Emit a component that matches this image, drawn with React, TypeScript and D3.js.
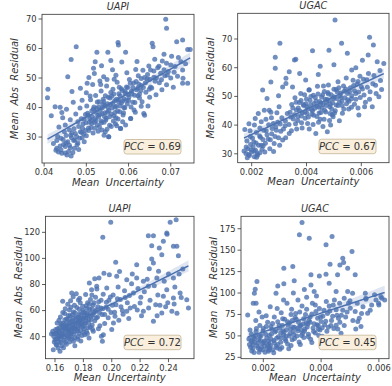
import React from 'react'
import * as d3 from 'd3'

// x values are stored in units of xUnit (see panels below)
const uapiTop: [number, number][] = [
  [43.0, 26.2], [44.2, 24.5], [45.4, 23.9], [45.0, 26.8], [43.4, 24.9], [46.2, 26.4], [47.0, 28.8], [43.0, 28.8],
  [44.6, 27.5], [45.8, 25.1], [46.8, 24.8], [44.0, 29.6], [45.2, 30.5], [46.5, 29.8], [47.8, 27.4], [48.4, 29.6],
  [47.4, 31.2], [42.8, 25.5], [44.8, 31.8], [46.0, 32.4], [48.9, 31.5], [49.5, 28.4],
  [40.9, 46.2], [40.8, 43.3], [41.7, 37.2], [47.6, 60.6], [46.4, 56.3], [45.6, 50.4], [42.6, 40.3], [43.8, 40.1],
  [44.2, 38.3], [46.6, 45.4], [48.6, 46.5], [50.2, 48.2], [45.3, 39.4], [46.9, 41.8], [47.5, 37.8], [48.0, 35.2],
  [46.2, 35.9], [45.0, 34.1], [43.5, 33.4], [44.4, 36.5],
  [49.2, 34.4], [49.8, 37.6], [50.1, 40.5], [50.5, 33.1], [50.8, 36.2], [51.0, 42.6], [51.3, 38.9], [51.6, 31.4],
  [51.9, 35.0], [52.2, 44.1], [52.4, 39.7], [52.6, 41.9], [52.9, 36.8], [53.1, 33.5], [53.3, 39.2], [53.5, 45.6],
  [53.8, 37.9], [54.0, 42.8], [54.2, 30.6], [54.4, 40.6], [54.6, 35.8], [54.8, 47.3], [55.0, 38.4], [55.2, 43.5],
  [55.3, 30.1], [55.5, 36.9], [55.7, 41.0], [55.9, 33.6], [56.1, 39.8], [56.3, 46.2], [56.5, 37.2], [56.7, 42.2],
  [56.9, 34.5], [57.1, 40.4], [57.3, 48.6], [57.5, 36.1], [57.7, 44.7], [57.9, 38.6], [58.1, 32.9], [58.3, 41.5],
  [58.5, 45.8], [58.7, 37.5], [58.9, 43.0], [59.1, 39.9], [59.3, 34.1], [59.5, 47.0], [59.7, 41.2], [59.9, 44.4],
  [60.5, 36.3], [48.5, 39.8], [49.0, 42.5], [50.0, 45.0], [51.5, 47.8], [52.0, 33.0], [53.0, 42.0], [54.5, 44.0],
  [55.5, 34.0], [56.0, 43.8], [57.0, 36.5], [58.0, 40.5], [52.7, 37.4], [53.9, 41.1], [55.1, 40.0], [56.8, 38.3],
  [54.3, 37.0], [51.8, 40.2], [50.3, 38.1], [49.5, 36.0], [52.3, 35.6], [57.6, 42.6], [50.9, 43.9], [53.6, 34.8],
  [55.8, 45.1], [58.6, 35.2], [49.8, 32.2], [51.2, 35.6], [53.4, 47.8], [56.6, 49.6], [54.9, 32.6], [57.8, 46.9],
  [52.5, 58.7], [51.7, 53.3], [52.1, 55.5], [51.9, 51.5], [54.1, 50.4], [57.5, 62.0], [57.6, 61.2], [55.1, 58.7],
  [59.3, 58.7], [53.6, 54.2], [56.2, 52.8], [58.4, 55.4], [54.9, 49.5], [57.0, 50.9], [59.6, 51.8], [50.6, 50.2],
  [55.8, 55.9], [53.2, 49.0],
  [60.8, 44.6], [61.2, 48.3], [61.5, 41.7], [61.9, 46.0], [62.3, 50.8], [62.6, 43.2], [63.0, 47.5], [63.4, 52.6],
  [63.6, 38.0], [63.8, 37.4], [61.3, 39.2], [58.1, 32.9], [55.3, 30.1], [54.5, 31.8], [60.5, 36.3], [64.1, 45.2],
  [64.4, 49.7], [64.8, 54.1], [65.2, 47.0], [65.6, 61.8], [65.8, 60.6], [65.2, 52.7], [66.0, 50.3], [66.5, 44.3],
  [66.9, 53.5], [67.3, 48.4], [67.6, 51.6], [68.0, 55.8], [68.4, 58.1], [68.8, 69.9], [69.0, 66.9], [69.0, 55.0],
  [69.0, 47.7], [69.4, 52.2], [70.0, 50.0], [70.6, 46.9], [71.0, 53.9], [71.4, 62.3], [71.8, 57.0], [72.4, 55.5],
  [72.8, 62.9], [72.8, 52.7], [72.9, 49.9], [72.8, 48.2], [74.0, 48.2], [74.0, 59.7], [74.6, 59.7], [73.5, 54.8],
  [62.0, 55.6], [63.2, 42.0], [64.6, 40.5], [66.2, 56.4], [67.9, 46.0], [60.2, 49.5], [61.7, 52.9], [62.9, 45.8],
  [65.0, 43.5], [70.2, 57.4], [68.6, 50.8], [60.0, 42.4], [61.0, 46.8], [62.4, 48.0], [63.8, 50.2], [64.9, 46.2],
  [66.3, 48.9], [59.2, 45.5], [60.6, 40.2], [62.2, 44.0],
  [45.6, 28.4], [46.3, 30.6], [47.1, 32.8], [47.7, 30.2], [48.2, 33.6], [48.8, 36.2], [49.4, 31.0], [49.9, 34.8],
  [50.4, 37.4], [50.7, 35.0], [51.1, 33.2], [51.4, 37.0], [51.7, 39.5], [52.0, 36.2], [52.3, 38.4], [52.6, 34.2],
  [52.9, 40.3], [53.2, 37.6], [53.5, 35.4], [53.8, 39.9], [54.1, 42.0], [54.4, 38.2], [54.7, 36.4], [55.0, 41.3],
  [55.3, 39.0], [55.6, 43.2], [55.9, 37.8], [56.2, 41.4], [56.5, 44.6], [56.8, 40.2], [57.1, 42.8], [57.4, 38.8],
  [57.7, 41.9], [58.0, 44.0], [58.3, 46.4], [58.6, 42.2], [58.9, 40.0], [59.2, 44.8], [59.5, 42.5], [59.8, 46.8],
  [60.1, 43.6], [60.4, 48.2], [60.7, 45.5], [61.0, 41.8], [61.4, 44.2], [61.8, 48.8], [62.2, 46.6], [62.6, 44.6],
  [63.0, 49.8], [63.5, 46.8], [64.0, 48.4], [64.5, 51.2], [65.0, 49.6], [65.5, 46.6], [66.0, 52.4], [66.6, 50.0],
  [67.2, 54.0], [67.8, 49.4], [68.4, 52.8], [69.2, 51.0], [70.0, 54.4], [70.8, 52.0], [71.6, 50.6], [43.8, 27.0],
  [44.5, 29.2], [45.2, 28.0], [46.0, 27.2], [46.6, 31.4], [47.3, 29.0], [48.0, 28.0], [48.6, 31.8], [49.1, 33.0],
  [50.0, 30.4], [50.6, 32.2], [51.3, 34.6], [53.7, 32.4], [56.4, 35.4], [58.8, 38.2], [61.6, 38.4], [63.0, 40.4],
  [54.2, 35.0], [52.8, 32.0], [57.2, 33.8], [42.2, 27.8], [43.2, 30.2], [44.0, 25.6], [45.0, 24.6], [46.4, 23.6],
  [47.2, 26.2], [48.2, 25.8], [49.0, 29.8]
]

const ugacTop: [number, number][] = [
  [17.9, 30.1], [18.6, 31.8], [19.2, 29.4], [20.0, 30.6], [20.5, 32.5], [21.0, 29.0], [21.4, 31.2], [22.0, 30.0],
  [18.3, 34.5], [19.5, 36.0], [20.8, 34.1], [21.7, 37.4], [22.5, 33.0], [23.2, 35.8], [23.8, 31.6], [24.4, 38.2],
  [25.0, 33.7], [25.6, 36.6], [26.2, 40.1], [26.8, 34.9], [27.5, 38.8], [28.2, 33.6], [28.8, 39.4], [17.5, 38.5],
  [19.0, 40.5], [21.3, 42.3], [22.4, 44.0], [23.5, 41.2], [24.6, 45.2], [25.6, 49.3], [24.0, 52.2], [26.4, 45.2],
  [27.2, 42.6], [29.5, 41.0], [30.0, 46.4], [31.3, 34.8], [33.7, 37.1], [30.6, 37.9], [32.2, 39.8], [29.2, 44.3],
  [50.4, 76.6], [30.3, 68.5], [42.2, 65.9], [28.6, 63.6], [28.6, 59.8], [36.1, 62.9], [35.6, 62.7], [48.2, 66.1],
  [52.8, 68.5], [63.0, 70.6], [64.4, 67.9], [65.8, 62.1], [68.2, 61.5], [62.5, 64.4], [54.9, 65.0], [60.4, 62.6],
  [31.3, 53.3], [34.9, 53.3], [32.5, 54.5], [33.7, 58.6], [32.5, 56.3], [39.7, 55.7], [40.9, 52.2], [27.0, 55.0],
  [29.8, 50.2], [37.5, 58.0], [45.0, 60.5], [50.0, 61.0], [56.5, 59.2], [58.0, 60.0], [44.3, 57.6],
  [66.4, 49.9], [65.2, 53.9], [64.0, 46.4], [59.1, 43.5], [53.1, 44.1], [49.7, 42.9], [48.8, 40.0], [47.6, 37.7],
  [43.4, 37.1], [61.5, 48.0], [63.2, 51.6], [67.0, 55.5], [62.0, 55.8], [57.5, 47.3], [55.4, 45.6], [46.0, 39.5],
  [41.0, 38.6], [38.2, 40.8], [52.0, 41.5],
  [34.0, 44.5], [34.6, 47.2], [35.2, 42.1], [35.8, 49.5], [36.3, 45.3], [36.9, 43.0], [37.4, 47.9], [37.9, 51.0],
  [38.5, 44.2], [39.0, 46.8], [39.5, 42.4], [40.0, 49.1], [40.5, 45.6], [41.0, 52.3], [41.5, 47.0], [42.0, 43.8],
  [42.5, 50.4], [43.0, 45.9], [43.5, 48.4], [44.0, 53.5], [44.5, 46.2], [45.0, 42.0], [45.5, 49.8], [46.0, 47.2],
  [46.5, 51.7], [47.0, 44.6], [47.5, 48.9], [48.0, 54.0], [48.5, 46.4], [49.0, 50.6], [49.5, 47.8], [50.0, 52.5],
  [50.5, 45.0], [51.0, 49.3], [51.5, 55.1], [52.0, 48.0], [52.5, 51.2], [53.0, 46.8], [53.5, 53.6], [54.0, 49.5],
  [54.5, 56.4], [55.0, 51.0], [55.5, 48.3], [56.0, 53.0], [56.5, 50.2], [57.0, 55.6], [57.5, 52.0], [58.0, 49.0],
  [58.5, 54.3], [59.0, 51.5], [59.5, 57.0], [60.0, 53.4], [36.0, 40.5], [38.0, 48.6], [40.2, 44.0], [42.8, 47.5],
  [44.2, 50.8], [46.8, 49.0], [48.6, 44.0], [50.8, 47.0], [52.6, 49.6], [54.6, 47.4], [56.4, 46.2], [41.6, 50.0],
  [43.8, 43.0], [45.6, 46.0], [47.8, 51.4], [49.2, 45.6], [51.8, 53.0], [53.8, 51.8], [39.3, 50.6], [37.0, 46.0],
  [61.0, 50.5], [62.6, 58.0], [60.8, 56.0], [64.6, 57.3], [66.8, 59.0], [58.8, 46.0], [39.8, 47.4], [42.2, 45.0],
  [44.8, 48.2], [47.2, 46.8], [49.8, 49.2], [45.2, 44.4], [48.2, 48.5], [50.2, 44.2], [51.2, 51.6], [46.2, 53.6],
  [18.0, 32.4], [18.9, 29.8], [19.6, 33.2], [20.3, 35.4], [20.9, 31.0], [21.6, 33.8], [22.2, 29.6], [22.9, 36.2],
  [23.5, 33.0], [24.1, 35.0], [24.8, 30.6], [25.3, 38.0], [26.0, 35.2], [26.6, 31.8], [27.3, 37.0], [27.9, 40.6],
  [28.5, 36.0], [29.0, 38.2], [29.8, 35.6], [30.4, 40.4], [31.0, 42.6], [31.6, 38.6], [32.3, 41.4], [33.0, 44.0],
  [33.6, 40.2], [34.3, 42.8], [35.0, 46.0], [35.6, 43.6], [36.2, 48.0], [36.8, 41.6], [37.5, 45.0], [38.1, 43.2],
  [38.8, 47.2], [39.4, 44.6], [40.1, 46.4], [40.7, 42.8], [41.3, 48.6], [41.9, 45.4], [42.6, 43.4], [43.2, 49.6],
  [43.9, 46.6], [44.6, 44.2], [45.2, 47.6], [45.9, 50.6], [46.6, 45.2], [47.3, 48.0], [48.0, 50.8], [48.7, 47.2],
  [49.4, 43.6], [50.1, 49.8], [50.8, 52.4], [51.5, 46.8], [52.2, 50.2], [52.9, 48.4], [53.6, 45.6], [54.3, 52.6],
  [55.0, 48.8], [55.7, 51.6], [56.4, 49.2], [57.2, 53.8], [58.0, 51.0], [58.8, 55.2], [59.6, 49.6], [60.4, 52.6],
  [61.2, 46.4], [62.2, 53.2], [63.0, 49.0], [64.2, 54.4], [65.4, 51.0], [67.4, 52.4], [19.4, 38.0], [21.0, 40.0],
  [23.0, 39.0], [25.2, 42.0], [27.0, 44.5], [28.0, 30.8], [30.2, 33.0], [32.4, 35.6], [34.5, 38.0], [36.4, 38.6],
  [38.4, 39.0], [40.4, 40.6], [42.4, 40.2], [44.4, 41.0], [46.4, 42.0], [48.4, 41.6], [17.2, 31.0], [18.4, 28.6],
  [19.8, 31.4], [21.8, 28.8], [23.0, 30.4], [24.2, 32.8]
]

const uapiBottom: [number, number][] = [
  [158.8, 30.0], [163.5, 28.8], [158.4, 44.1], [160.0, 37.7], [157.5, 42.0], [159.2, 40.2], [160.5, 45.5], [161.2, 33.4],
  [162.0, 38.6], [162.6, 42.8], [163.2, 47.0], [164.0, 35.5], [164.6, 40.4], [165.2, 44.6], [165.8, 50.2], [166.4, 37.2],
  [167.0, 42.1], [167.6, 47.8], [168.2, 53.5], [168.8, 39.4], [169.4, 45.0], [170.0, 50.6], [170.6, 56.0], [171.2, 41.8],
  [171.8, 47.2], [172.4, 52.4], [173.0, 59.0], [173.6, 44.0], [174.2, 49.6], [174.8, 55.2], [175.4, 62.4], [176.0, 46.3],
  [176.6, 51.8], [177.2, 57.5], [177.8, 66.0], [178.4, 48.5], [179.0, 54.0], [179.6, 60.2], [180.2, 43.2], [180.8, 56.6],
  [181.4, 50.5], [182.0, 63.8], [182.6, 58.0], [183.2, 46.8], [183.8, 53.2], [184.4, 61.0], [185.0, 68.5], [185.6, 55.6],
  [186.2, 49.0], [186.8, 64.2], [187.4, 58.4], [188.0, 52.2], [188.6, 70.2], [189.2, 60.6], [190.0, 55.0], [190.8, 66.8],
  [191.6, 48.3], [192.4, 62.0], [193.2, 57.0], [194.0, 72.5], [166.0, 31.5], [168.0, 34.2], [170.2, 36.0], [172.0, 38.2],
  [174.0, 33.0], [176.2, 40.0], [178.2, 36.6], [181.0, 41.5], [184.0, 39.0], [187.0, 44.2], [161.5, 50.5], [163.8, 55.0],
  [165.5, 58.6], [167.2, 61.5], [169.0, 64.8], [171.0, 67.5], [172.8, 70.6], [175.0, 73.0], [176.5, 68.2], [178.0, 44.8],
  [179.5, 47.5], [182.2, 44.0], [184.8, 47.5], [169.8, 42.6], [171.5, 46.0], [173.3, 42.0], [175.8, 44.5], [177.5, 49.8],
  [174.5, 52.0], [172.2, 56.8], [169.6, 53.6], [167.8, 50.0], [166.5, 46.2], [164.8, 48.8], [162.8, 36.0], [171.2, 62.5],
  [180.0, 58.8], [183.0, 66.0], [186.0, 72.0], [189.5, 76.5], [170.8, 40.0], [173.8, 46.4], [176.8, 42.6], [179.2, 51.2],
  [181.8, 54.4], [168.5, 45.4], [165.0, 41.0], [163.0, 40.0], [161.0, 42.6], [177.0, 54.6], [174.0, 39.2], [180.5, 46.0],
  [184.2, 81.1], [189.4, 78.6], [196.5, 77.3], [203.5, 86.3], [198.3, 87.5], [171.8, 73.5], [165.4, 67.1], [199.3, 127.7],
  [193.7, 116.2], [245.4, 129.7], [241.2, 127.7], [238.8, 119.5], [239.0, 118.5], [225.8, 117.4], [229.4, 117.4], [228.2, 109.7],
  [236.4, 113.1], [243.5, 109.3], [245.9, 109.3], [247.0, 102.1], [228.2, 99.5], [229.4, 96.5], [235.3, 102.8], [202.8, 97.0],
  [252.9, 68.4], [254.1, 62.0], [242.4, 59.5], [235.3, 58.2], [229.4, 51.8], [250.1, 91.9], [243.5, 85.0], [248.2, 73.5],
  [238.8, 76.0], [236.4, 71.0], [243.5, 69.7], [222.3, 82.5], [225.8, 78.6], [231.8, 85.0], [233.0, 90.1], [217.6, 95.2],
  [217.6, 85.0], [210.6, 83.7], [215.3, 73.5], [220.0, 65.8], [222.3, 59.5], [210.6, 59.5], [202.3, 55.6], [201.2, 50.5],
  [194.1, 41.5], [193.4, 36.5], [192.7, 40.3],
  [196.0, 62.5], [198.0, 68.0], [199.5, 58.5], [201.0, 72.0], [203.0, 64.5], [204.5, 78.0], [206.0, 68.5], [207.5, 60.0],
  [209.0, 75.2], [211.0, 66.0], [212.5, 71.5], [214.0, 80.5], [216.0, 63.2], [218.5, 77.0], [220.5, 70.2], [223.0, 74.5],
  [225.0, 84.0], [227.0, 68.0], [230.0, 79.0], [232.5, 72.0], [234.0, 64.0], [237.0, 82.5], [240.0, 88.0], [195.0, 50.0],
  [197.5, 54.5], [200.0, 45.5], [205.0, 52.5], [208.0, 57.2], [212.0, 54.0], [191.0, 85.0], [194.5, 88.6], [188.0, 84.5],
  [205.5, 90.0], [214.5, 88.0], [226.5, 92.0], [231.0, 64.5], [239.5, 66.0], [244.5, 78.0], [247.5, 88.0], [233.5, 108.0],
  [159.5, 36.0], [160.2, 42.0], [161.0, 38.2], [161.8, 46.0], [162.4, 40.8], [163.0, 44.2], [163.7, 38.0], [164.3, 50.0],
  [165.0, 42.6], [165.6, 47.4], [166.2, 39.6], [166.9, 53.0], [167.5, 45.0], [168.1, 41.2], [168.7, 48.6], [169.3, 56.2],
  [169.9, 46.0], [170.5, 43.0], [171.1, 51.4], [171.7, 44.4], [172.3, 49.0], [172.9, 54.2], [173.5, 47.0], [174.1, 58.4],
  [174.7, 45.8], [175.3, 50.4], [175.9, 54.6], [176.5, 48.2], [177.1, 61.0], [177.7, 52.6], [178.3, 56.8], [178.9, 50.0],
  [179.5, 63.4], [180.1, 54.2], [180.7, 48.8], [181.3, 58.2], [181.9, 52.0], [182.5, 61.6], [183.1, 56.0], [183.7, 50.4],
  [184.3, 64.8], [184.9, 58.0], [185.5, 53.2], [186.1, 61.2], [186.7, 56.6], [187.5, 66.0], [188.3, 59.2], [189.1, 54.4],
  [190.2, 63.0], [191.3, 58.6], [192.5, 68.0], [193.6, 61.4], [195.0, 57.0], [196.2, 66.4], [197.5, 61.0], [199.0, 70.4],
  [200.5, 64.0], [202.0, 58.8], [204.0, 69.0], [206.5, 63.0], [209.5, 70.0], [213.0, 62.0], [160.8, 34.2], [162.2, 31.4],
  [164.8, 33.0], [167.2, 35.8], [169.6, 38.6], [173.0, 36.4], [176.0, 38.0], [179.0, 40.8], [182.8, 42.4], [186.4, 45.6],
  [190.6, 46.0], [162.8, 52.6], [166.8, 57.8], [170.2, 60.4], [173.7, 64.0], [177.4, 69.4], [181.6, 72.4], [185.8, 76.0],
  [226.0, 62.0], [232.0, 56.0], [238.0, 63.0], [244.0, 65.0], [249.0, 70.0], [221.0, 56.0], [246.0, 58.0], [218.0, 60.5]
]

const ugacBottom: [number, number][] = [
  [33.4, 182.3], [32.5, 167.9], [35.9, 164.0], [43.8, 166.0], [41.7, 156.2], [50.7, 148.5], [47.5, 140.7], [47.8, 135.6],
  [46.5, 132.8], [49.2, 129.0], [51.8, 121.2], [43.1, 133.7], [36.5, 121.2], [39.4, 120.0], [41.7, 122.0], [45.7, 121.2],
  [27.1, 129.0], [30.2, 131.0], [25.0, 108.3], [27.1, 110.7], [30.7, 114.2], [17.8, 113.5], [17.2, 104.5], [16.9, 99.8],
  [17.5, 88.2], [16.5, 88.2], [14.6, 74.5], [15.4, 57.0], [24.4, 99.8], [36.5, 109.5], [37.6, 101.8], [42.8, 111.5],
  [45.2, 101.8], [49.2, 101.8], [50.9, 99.8], [55.3, 99.8], [55.5, 92.8], [59.0, 92.0], [59.9, 88.2], [60.7, 96.0],
  [56.1, 76.5], [53.2, 70.7], [53.8, 61.0], [52.7, 66.8], [51.8, 78.5], [50.1, 82.3], [46.9, 53.2],
  [16.3, 39.5], [19.8, 33.7], [23.3, 33.7], [17.0, 42.5], [18.2, 36.0], [19.0, 45.0], [20.5, 38.2], [21.2, 47.5],
  [22.0, 41.0], [22.8, 52.0], [23.6, 44.5], [24.4, 38.0], [25.2, 49.0], [26.0, 42.5], [26.8, 56.0], [27.6, 46.2],
  [28.4, 40.5], [29.2, 52.8], [30.0, 45.5], [30.8, 60.0], [31.6, 49.8], [32.4, 43.0], [33.2, 56.5], [34.0, 48.2],
  [34.8, 65.0], [35.6, 52.0], [36.4, 46.0], [37.2, 59.2], [38.0, 53.5], [38.8, 70.5], [39.6, 57.0], [40.4, 49.5],
  [41.2, 63.0], [42.0, 55.5], [42.8, 48.0], [43.6, 68.0], [44.4, 58.5], [45.2, 62.5], [17.5, 55.0], [18.8, 62.0],
  [20.0, 58.5], [21.5, 66.0], [22.6, 61.0], [23.8, 72.0], [25.0, 66.5], [26.2, 77.0], [27.4, 69.5], [28.6, 62.5],
  [29.8, 81.0], [31.0, 71.5], [32.2, 66.0], [33.4, 85.0], [34.6, 75.0], [35.8, 68.0], [37.0, 88.0], [38.2, 78.5],
  [39.4, 82.0], [40.6, 73.0], [41.8, 90.0], [43.0, 79.0], [44.2, 86.0], [45.5, 74.0], [46.5, 66.0], [47.5, 80.0],
  [48.5, 72.0], [49.5, 88.0], [24.0, 54.5], [25.6, 58.8], [27.0, 51.0], [28.0, 57.2], [29.0, 64.8], [30.4, 55.0],
  [31.8, 58.6], [33.0, 62.2], [34.2, 55.5], [35.2, 60.4], [36.2, 72.0], [37.6, 64.2], [39.0, 62.0], [40.0, 66.8],
  [20.8, 52.0], [19.2, 50.2], [16.6, 48.0], [15.8, 44.2], [22.2, 36.2], [26.4, 36.5], [29.6, 38.8], [32.8, 40.0],
  [36.8, 42.2], [41.6, 44.6], [44.8, 46.0], [24.8, 82.0], [28.2, 88.0], [32.0, 92.0], [35.0, 95.0], [38.4, 96.5],
  [21.0, 73.5], [18.5, 78.0], [31.2, 76.0], [26.6, 62.0], [30.0, 68.0], [34.0, 70.0], [39.0, 58.0], [42.5, 60.0],
  [46.0, 70.5], [48.0, 62.0], [52.0, 58.0], [54.5, 84.0], [57.5, 86.0], [61.0, 94.0], [21.8, 44.0], [24.6, 47.2],
  [27.8, 49.6], [30.6, 51.4], [33.6, 53.0], [23.0, 57.6], [26.0, 53.4], [29.4, 58.0], [32.6, 61.4], [35.4, 63.8],
  [15.2, 40.0], [15.9, 52.0], [16.4, 35.5], [17.0, 47.0], [17.6, 58.5], [18.1, 41.5], [18.7, 50.0], [19.3, 37.0],
  [19.9, 55.5], [20.4, 44.0], [21.0, 61.0], [21.5, 39.5], [22.1, 50.5], [22.7, 46.0], [23.2, 64.5], [23.8, 42.0],
  [24.4, 56.0], [25.0, 40.0], [25.5, 62.0], [26.1, 47.5], [26.7, 70.0], [27.2, 54.5], [27.8, 44.0], [28.4, 66.5],
  [29.0, 50.0], [29.6, 75.0], [30.2, 60.0], [30.8, 47.0], [31.4, 69.5], [32.0, 56.0], [32.6, 78.0], [33.2, 50.5],
  [33.8, 64.0], [34.4, 58.0], [35.0, 81.0], [35.6, 49.0], [36.2, 66.0], [36.8, 75.5], [37.4, 55.0], [38.0, 86.0],
  [38.6, 63.0], [39.2, 50.5], [39.8, 72.0], [40.4, 59.5], [41.0, 80.0], [41.6, 67.0], [42.2, 76.0], [42.8, 85.0],
  [43.4, 62.0], [44.0, 73.0], [44.6, 92.0], [45.2, 80.5], [45.8, 58.0], [46.4, 88.0], [47.0, 74.0], [48.0, 94.0],
  [49.0, 78.0], [50.0, 91.0], [51.0, 68.0], [52.5, 88.0], [54.0, 76.0], [55.5, 94.0], [57.0, 80.0], [58.5, 98.0],
  [60.0, 86.0], [62.0, 92.0], [16.0, 32.5], [18.5, 31.0], [21.8, 32.0], [25.8, 34.5], [28.8, 35.0], [17.4, 68.0],
  [19.6, 72.0], [22.4, 84.0], [27.0, 92.0], [30.4, 100.0], [34.2, 104.0], [15.6, 36.8], [16.8, 30.5], [17.8, 38.4],
  [18.9, 34.2], [19.7, 41.4], [20.6, 30.8], [21.4, 35.6], [22.5, 38.8], [23.6, 30.2], [24.8, 36.0], [15.0, 46.5],
  [16.2, 43.0], [17.3, 50.6], [18.4, 45.6], [20.2, 42.4], [22.0, 33.8]
]

const uapiTopXTicks = [0.04, 0.05, 0.06, 0.07]
const uapiTopYTicks = [30, 40, 50, 60, 70]
const ugacTopXTicks = [0.002, 0.004, 0.006]
const ugacTopYTicks = [30, 40, 50, 60, 70]
const uapiBottomXTicks = [0.16, 0.18, 0.2, 0.22, 0.24]
const uapiBottomYTicks = [40, 60, 80, 100, 120]
const ugacBottomXTicks = [0.002, 0.004, 0.006]
const ugacBottomYTicks = [25, 50, 75, 100, 125, 150, 175]

const titles = ['UAPI', 'UGAC', 'UAPI', 'UGAC']
const pccValues = ['0.69', '0.67', '0.72', '0.45']

const BLUE = '#4c72b0'
const INK = '#333333'
const FONT = 'DejaVu Sans, sans-serif'

const panels = [
  {
    data: uapiTop, xUnit: 1e-3, xTicks: uapiTopXTicks, yTicks: uapiTopYTicks, xFmt: d3.format('.2f'),
    xDomain: [0.0395, 0.0755], yDomain: [21.2, 71.6], box: {l: 42, t: 14.3, r: 194, b: 163}
  },
  {
    data: ugacTop, xUnit: 1e-4, xTicks: ugacTopXTicks, yTicks: ugacTopYTicks, xFmt: d3.format('.3f'),
    xDomain: [0.00149, 0.00701], yDomain: [26.9, 78.95], box: {l: 237.7, t: 13.3, r: 389, b: 162.7}
  },
  {
    data: uapiBottom, xUnit: 1e-3, xTicks: uapiBottomXTicks, yTicks: uapiBottomYTicks, xFmt: d3.format('.2f'),
    xDomain: [0.1533, 0.258], yDomain: [23.1, 132.3], box: {l: 45.5, t: 216.3, r: 194, b: 358.7}
  },
  {
    data: ugacBottom, xUnit: 1e-4, xTicks: ugacBottomXTicks, yTicks: ugacBottomYTicks, xFmt: d3.format('.3f'),
    xDomain: [0.001228, 0.00635], yDomain: [23.4, 189.5], box: {l: 241, t: 216.3, r: 389, b: 358.7}
  }
]

// least squares fit with a 95% band, the way regplot draws it
function regression(pts: [number, number][]) {
  const n = pts.length
  const mx = d3.mean(pts, d => d[0]) as number
  const my = d3.mean(pts, d => d[1]) as number
  let sxx = 0
  let sxy = 0
  pts.forEach(([x, y]) => {
    sxx += (x - mx) * (x - mx)
    sxy += (x - mx) * (y - my)
  })
  const b = sxy / sxx
  const a = my - b * mx
  const sse = d3.sum(pts, ([x, y]) => (y - a - b * x) ** 2)
  const s = Math.sqrt(sse / (n - 2))
  const [x0, x1] = d3.extent(pts, d => d[0]) as [number, number]
  return d3.range(0, 41).map(i => {
    const x = x0 + ((x1 - x0) * i) / 40
    const yhat = a + b * x
    const half = 1.96 * s * Math.sqrt(1 / n + (x - mx) ** 2 / sxx)
    return {x, y: yhat, lo: yhat - half, hi: yhat + half}
  })
}

function Panel({p, idx}: {p: any; idx: number}) {
  const {l, t, r, b} = p.box
  const x = d3.scaleLinear().domain(p.xDomain).range([l, r])
  const y = d3.scaleLinear().domain(p.yDomain).range([b, t])
  const fit = regression(p.data)
  const u = p.xUnit
  const line = d3.line<any>().x(d => x(d.x * u)).y(d => y(d.y))
  const band = d3.area<any>().x(d => x(d.x * u)).y0(d => y(d.lo)).y1(d => y(d.hi))
  const cx = (l + r) / 2
  const cy = (t + b) / 2
  const clipId = `clip${idx}`
  const bw = 57
  const bh = 14.5
  const bx = r - 13 - bw
  const by = b - 9 - bh

  return (
    <g>
      <defs>
        <clipPath id={clipId}>
          <rect x={l} y={t} width={r - l} height={b - t} />
        </clipPath>
      </defs>
      <g clipPath={`url(#${clipId})`}>
        {p.data.map((d: [number, number], i: number) => (
          <circle key={i} cx={x(d[0] * u)} cy={y(d[1])} r={2.5} fill={BLUE} fillOpacity={0.8} />
        ))}
        <path d={band(fit) as string} fill={BLUE} fillOpacity={0.18} />
        <path d={line(fit) as string} fill="none" stroke={BLUE} strokeWidth={1.5} />
      </g>
      <rect x={l} y={t} width={r - l} height={b - t} fill="none" stroke={INK} strokeWidth={0.8} />
      {p.xTicks.map((v: number) => (
        <g key={v}>
          <line x1={x(v)} x2={x(v)} y1={b} y2={b + 3.5} stroke={INK} strokeWidth={0.8} />
          <text x={x(v)} y={b + 12} textAnchor="middle" fontSize={8.3} fill={INK}>
            {p.xFmt(v)}
          </text>
        </g>
      ))}
      {p.yTicks.map((v: number) => (
        <g key={v}>
          <line x1={l - 3.5} x2={l} y1={y(v)} y2={y(v)} stroke={INK} strokeWidth={0.8} />
          <text x={l - 5.5} y={y(v)} dy="0.35em" textAnchor="end" fontSize={8.3} fill={INK}>
            {v}
          </text>
        </g>
      ))}
      <text x={cx} y={t - 4.5} textAnchor="middle" fontSize={9.7} fontStyle="italic" fill={INK}>
        {titles[idx]}
      </text>
      <text x={cx} y={b + 22.5} textAnchor="middle" fontSize={10} fontStyle="italic" fill={INK}
        style={{whiteSpace: 'pre'}}>
        {'Mean  Uncertainty'}
      </text>
      <text transform={`translate(${l - 24},${cy}) rotate(-90)`} textAnchor="middle" fontSize={10}
        fontStyle="italic" fill={INK} style={{whiteSpace: 'pre'}}>
        {'Mean  Abs  Residual'}
      </text>
      <rect x={bx} y={by} width={bw} height={bh} rx={2.5} fill="#faefdc" stroke="#c9bb9f" strokeWidth={0.9} />
      <text x={bx + bw / 2} y={by + bh / 2} dy="0.36em" textAnchor="middle" fontSize={10} fill={INK}
        style={{whiteSpace: 'pre'}}>
        <tspan fontStyle="italic">PCC</tspan>
        {` = ${pccValues[idx]}`}
      </text>
    </g>
  )
}

export default function App() {
  return (
    <div style={{position: 'absolute', left: 0, top: 0}}>
      <svg width={392} height={386} style={{display: 'block', fontFamily: FONT}}>
        <rect width={392} height={386} fill="#ffffff" />
        {panels.map((p, i) => (
          <Panel key={i} p={p} idx={i} />
        ))}
      </svg>
    </div>
  )
}
